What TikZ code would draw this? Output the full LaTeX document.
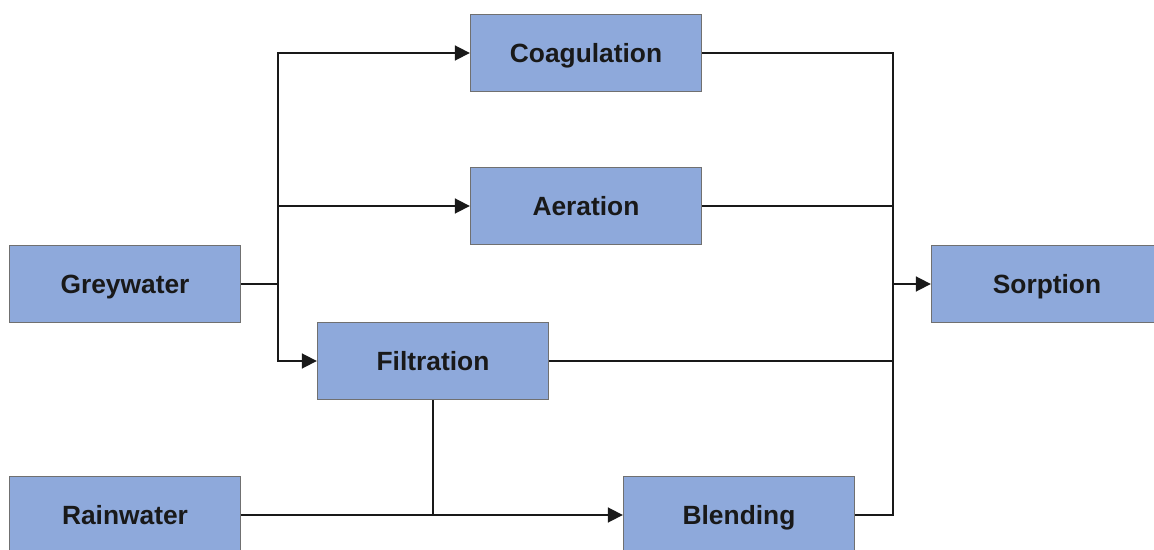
\documentclass[tikz,border=0pt]{standalone}
\usepackage{fontspec}
\setmainfont{Liberation Sans}
\usetikzlibrary{arrows.meta}
\definecolor{boxblue}{RGB}{142,169,219}
\definecolor{boxedge}{RGB}{112,112,112}
\begin{document}
\begin{tikzpicture}[x=0.02cm,y=-0.02cm,
  box/.style={draw=boxedge, fill=boxblue, line width=0.8pt, minimum width=4.62cm, minimum height=1.54cm, inner sep=0pt, text height=10.7pt, text depth=0pt, font=\fontsize{15}{18}\selectfont\bfseries, text=black!90},
  conn/.style={line width=1pt, draw=black!90},
  arr/.style={conn, -{Triangle[length=8.5pt,width=8.5pt]}}]
\useasboundingbox (0,0) rectangle (1154,550);
\node[box] (coag) at (586,53) {Coagulation};
\node[box] (aer) at (586,206) {Aeration};
\node[box] (grey) at (125,284) {Greywater};
\node[box] (sorp) at (1047,284) {Sorption};
\node[box] (filt) at (433,361) {Filtration};
\node[box] (rain) at (125,515) {Rainwater};
\node[box] (blend) at (739,515) {Blending};
\coordinate (sp) at (278,284);
\coordinate (jr) at (893,284);
\coordinate (fj) at (433,515);
\draw[conn] (grey.east) -- (sp);
\draw[arr] (sp) |- (coag.west);
\draw[arr] (sp) |- (aer.west);
\draw[arr] (sp) |- (filt.west);
\draw[conn] (coag.east) -| (jr);
\draw[conn] (aer.east) -| (jr);
\draw[conn] (filt.east) -| (jr);
\draw[conn] (blend.east) -| (jr);
\draw[arr] (jr) -- (sorp.west);
\draw[arr] (rain.east) -- (blend.west);
\draw[conn] (filt.south) -- (fj);
\end{tikzpicture}
\end{document}
